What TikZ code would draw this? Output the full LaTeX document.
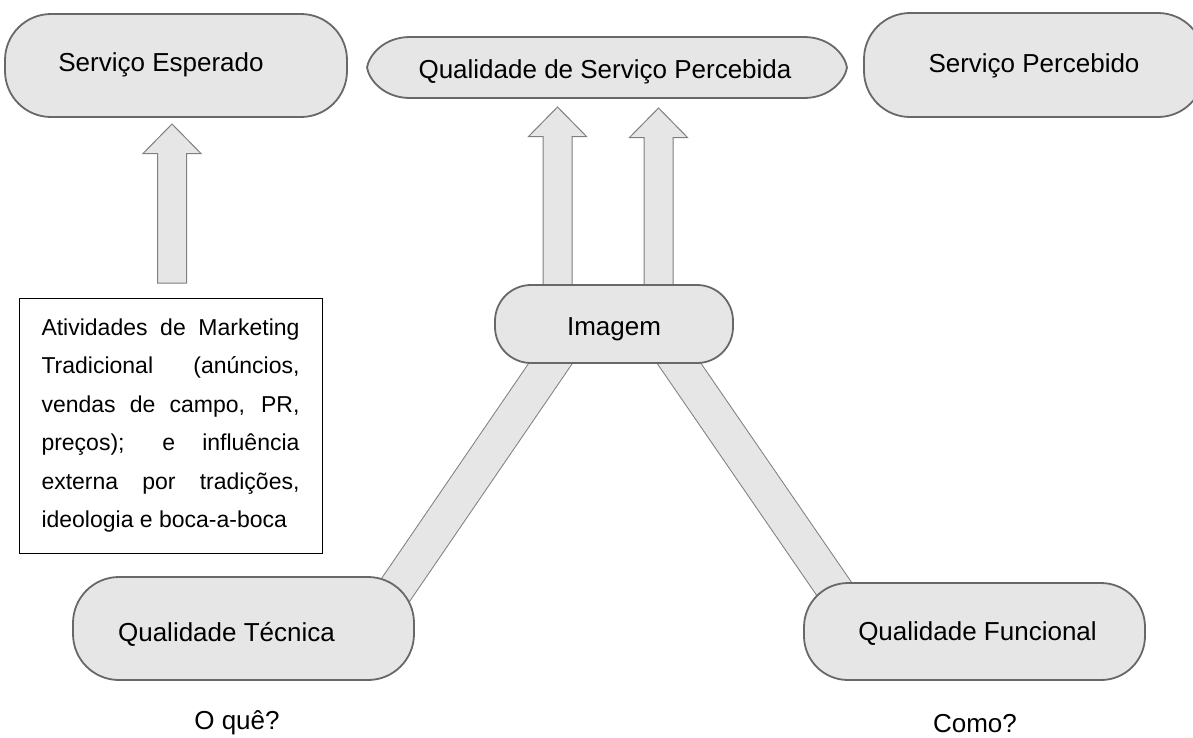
\documentclass[tikz,border=0pt]{standalone}
\usepackage{fontspec}
\setmainfont{Liberation Sans}
\usetikzlibrary{calc}
\definecolor{fillg}{HTML}{E6E6E6}
\definecolor{edgeg}{HTML}{6B6767}
\definecolor{arrg}{HTML}{7F7F7F}
\newcommand\blockup[3]{%
  \draw[blk] (#1-14.5,#2) -- (#1-14.5,#3+29.5) -- (#1-29,#3+29.5) -- (#1,#3)
    -- (#1+29,#3+29.5) -- (#1+14.5,#3+29.5) -- (#1+14.5,#2) -- cycle;}
\begin{document}
\begin{tikzpicture}[x=1pt,y=-1pt,
  pill/.style={draw=edgeg, line width=1.8pt, fill=fillg, rounded corners=46pt,
    inner sep=0pt, font=\fontsize{26}{30}\selectfont},
  lab/.style={font=\fontsize{26}{30}\selectfont, text=black, inner sep=0pt},
  blk/.style={draw=arrg, line width=1pt, fill=fillg},
  bar/.style={draw=arrg, line width=1pt, double=fillg, double distance=35pt},
]
\useasboundingbox (0,0) rectangle (1193,737);
\clip (0,0) rectangle (1193,737);

% bars between Imagem and the two qualities (ends hidden under the nodes)
\coordinate (lbtop) at (566.5,340);
\coordinate (lbbot) at (375,620);
\coordinate (rbtop) at (663,340);
\coordinate (rbbot) at (859,625);
\draw[bar] (lbtop) -- (lbbot);
\draw[bar] (rbtop) -- (rbbot);

% block arrows
\blockup{172}{283}{124}
\blockup{557.5}{300}{107}
\blockup{658.5}{300}{108}

% Qualidade de Servico Percebida shape
\draw[draw=edgeg, line width=1.8pt, fill=fillg]
  (410,37) -- (804,37) .. controls (830,37) and (845,55) .. (847,67.5)
  .. controls (845,80) and (830,98) .. (804,98) -- (410,98)
  .. controls (384,98) and (369,80) .. (367,67.5)
  .. controls (369,55) and (384,37) .. (410,37) -- cycle;
\node[lab, minimum width=480pt, minimum height=61pt] (qsp) at (605,72) {Qualidade de Serviço Percebida};

\node[pill, minimum width=342pt, minimum height=103pt,
  label={[lab,xshift=-15pt,yshift=1pt]center:Serviço Esperado}] (esp) at (176,65.5) {};
\node[pill, minimum width=340pt, minimum height=104pt,
  label={[lab,yshift=-1pt]center:Serviço Percebido}] (perc) at (1034,65) {};

\node[pill, rounded corners=36pt, minimum width=238pt, minimum height=78pt,
  label={[lab,yshift=-5pt]center:Imagem}] (img) at (614,324) {};

\node[pill, minimum width=341pt, minimum height=103pt,
  label={[lab,xshift=-17pt,yshift=-6pt]center:Qualidade Técnica}] (tec) at (243.5,628.5) {};
\node[pill, rounded corners=44pt, minimum width=341pt, minimum height=97pt,
  label={[lab,xshift=3pt,yshift=-2pt]center:Qualidade Funcional}] (fun) at (974.5,631.5) {};

\node[draw=black, line width=0.9pt, minimum width=303pt, minimum height=255pt,
  inner sep=0pt, text width=258pt, align=justify,
  font=\fontsize{23}{38.5}\selectfont] (box) at (170.5,425.5)
  {\makebox[258pt][s]{Atividades de Marketing}\\
   \makebox[258pt][s]{Tradicional (anúncios,}\\
   \makebox[258pt][s]{vendas de campo, PR,}\\
   \makebox[258pt][s]{preços); e influência}\\
   \makebox[258pt][s]{externa por tradições,}\\
   \makebox[258pt][l]{ideologia e boca-a-boca}};

\node[lab] (oque) at (237,723) {O quê?};
\node[lab] (como) at (975,724) {Como?};
\end{tikzpicture}
\end{document}
